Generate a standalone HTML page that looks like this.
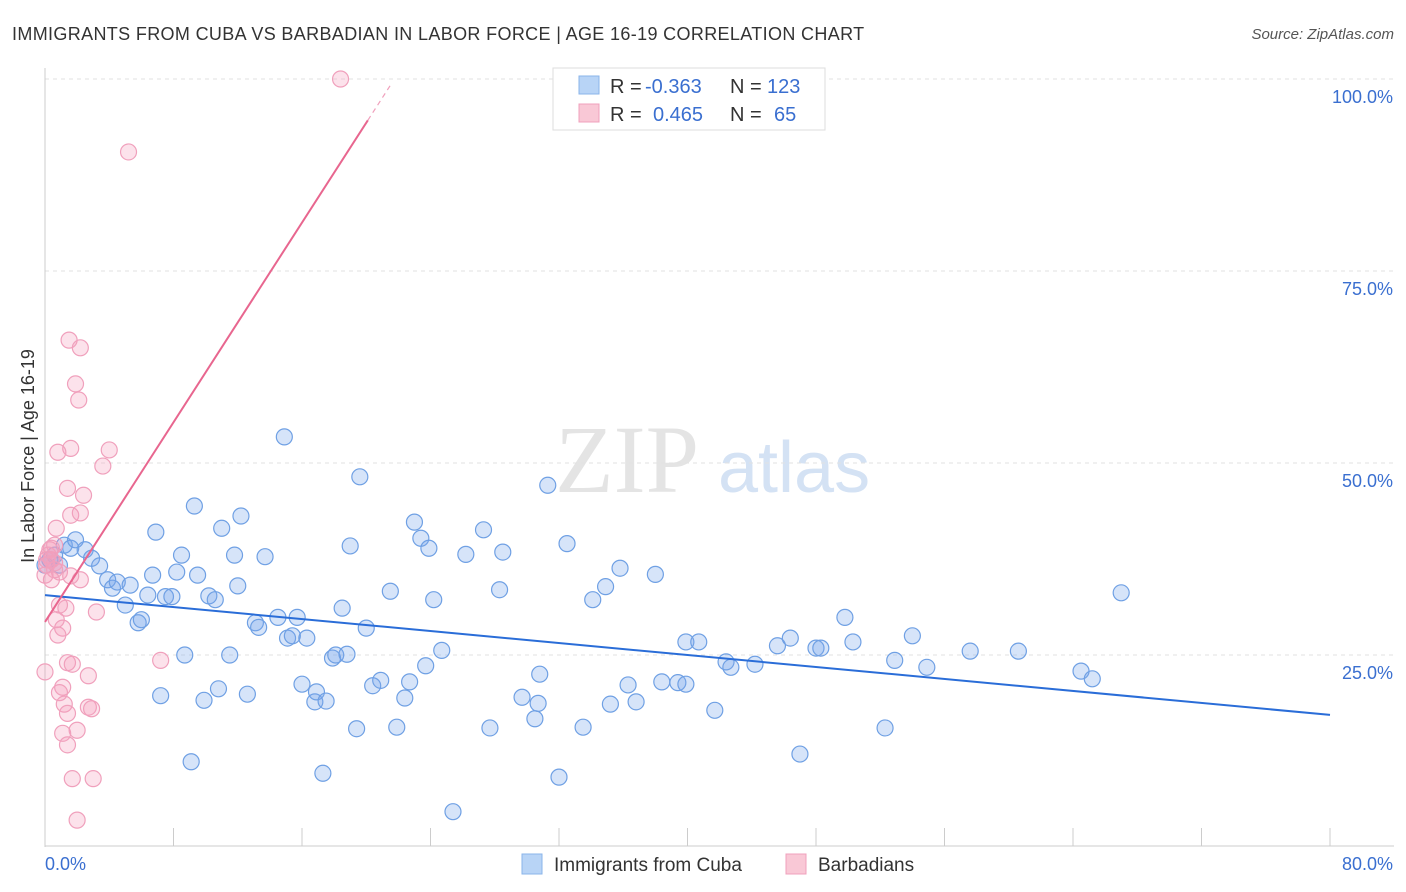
<!DOCTYPE html>
<html><head><meta charset="utf-8"><style>
body{margin:0;background:#fff;font-family:"Liberation Sans",sans-serif;}
#wrap{position:relative;width:1406px;height:892px;overflow:hidden;}
</style></head><body>
<div id="wrap">
<svg id="svg" width="1406" height="892">
<text x="12" y="40" font-size="18" fill="#333" letter-spacing="0.35">IMMIGRANTS FROM CUBA VS BARBADIAN IN LABOR FORCE | AGE 16-19 CORRELATION CHART</text>
<text x="1394" y="39" font-size="15" fill="#555" font-style="italic" text-anchor="end">Source: ZipAtlas.com</text>
<text x="34" y="456" font-size="18" fill="#333" text-anchor="middle" transform="rotate(-90 34 456)">In Labor Force | Age 16-19</text>
<text x="555" y="492" font-size="96" fill="#e4e4e4" font-family="Liberation Serif,serif">ZIP</text>
<text x="718" y="492" font-size="72" fill="#d4e2f4">atlas</text>
<g id="grid"></g><g id="marks"></g><g id="lines"></g>
<g>
<rect x="553" y="68" width="272" height="62" fill="#fff" stroke="#ddd"/>
<rect x="579" y="76" width="20" height="18" fill="#b8d4f6" stroke="#8ab4ea"/>
<rect x="579" y="104" width="20" height="18" fill="#f9c8d6" stroke="#f0a0bc"/>
<text font-size="20" fill="#333"><tspan x="610" y="93">R =</tspan><tspan x="610" y="121">R =</tspan><tspan x="730" y="93">N =</tspan><tspan x="730" y="121">N =</tspan></text>
<text font-size="20" fill="#3a6fd0"><tspan x="645" y="93">-0.363</tspan><tspan x="653" y="121">0.465</tspan><tspan x="767" y="93">123</tspan><tspan x="774" y="121">65</tspan></text>
</g>
<g>
<rect x="522" y="854" width="20" height="20" fill="#b8d4f6" stroke="#8ab4ea"/>
<text x="554" y="871" font-size="19" fill="#333">Immigrants from Cuba</text>
<rect x="786" y="854" width="20" height="20" fill="#f9c8d6" stroke="#f0a0bc"/>
<text x="818" y="871" font-size="19" fill="#333">Barbadians</text>
</g>
</svg>
</div>
<script>
const yTicks=[25,50,75,100];
const yTickLabels=["25.0%","50.0%","75.0%","100.0%"];
const xTicks=[0,8,16,24,32,40,48,56,64,72,80];
const cubaX=[0,0.3,0.6,0.9,1.2,1.6,1.9,2.5,2.9,3.4,3.9,4.2,4.5,5.0,5.3,5.8,6.0,6.4,6.7,6.9,7.2,7.5,7.9,8.2,8.5,8.7,9.1,9.3,9.5,9.9,10.2,10.6,10.8,11.0,11.5,11.8,12.0,12.2,12.6,13.1,13.3,13.7,14.5,14.9,15.1,15.4,15.7,16.0,16.3,16.8,16.9,17.3,17.5,17.9,18.1,18.5,18.8,19.0,19.4,19.6,20.0,20.4,20.9,21.5,21.9,22.4,22.7,23.0,23.4,23.7,23.9,24.2,24.7,25.4,26.2,27.3,27.7,28.3,28.5,29.7,30.5,30.7,30.8,31.3,32.0,32.5,33.5,34.1,34.9,35.2,35.8,36.3,36.8,38.0,38.4,39.4,39.9,39.9,40.7,41.7,42.4,42.7,44.2,45.6,46.4,47.0,48.0,48.3,49.8,50.3,52.3,52.9,54.0,54.9,57.6,60.6,64.5,65.2,67.0];
const cubaY=[36.7,37.4,38.0,36.7,39.3,38.9,40.0,38.7,37.6,36.6,34.8,33.7,34.5,31.5,34.1,29.2,29.6,32.8,35.4,41.0,19.7,32.6,32.6,35.8,38.0,25.0,11.1,44.4,35.4,19.1,32.7,32.2,20.6,41.5,25.0,38.0,34.0,43.1,19.9,29.2,28.6,37.8,29.9,53.4,27.2,27.5,29.9,21.2,27.2,18.9,20.2,9.6,19.0,24.6,25.0,31.1,25.1,39.2,15.4,48.2,28.5,21.0,21.7,33.3,15.6,19.4,21.5,42.3,40.2,23.6,38.9,32.2,25.6,4.6,38.1,41.3,15.5,33.5,38.4,19.5,16.7,18.7,22.5,47.1,9.1,39.5,15.6,32.2,33.9,18.6,36.3,21.1,18.9,35.5,21.5,21.4,26.7,21.2,26.7,17.8,24.1,23.4,23.8,26.2,27.2,12.1,25.9,25.9,29.9,26.7,15.5,24.3,27.5,23.4,25.5,25.5,22.9,21.9,33.1];
const barbX=[18.4,5.2,1.5,2.2,1.9,2.1,1.6,0.8,4.0,3.6,1.4,2.4,1.6,2.2,0.7,0.6,0.3,0.2,0.4,0.1,0.6,0.9,0,2.2,1.6,0.4,1.3,0.9,3.2,0.7,1.1,0.8,7.2,0,1.4,1.7,2.7,1.1,0.9,2.7,2.9,1.2,1.4,2.0,1.1,1.4,1.7,3.0,2.0,0.1,0.4,0.6];
const barbY=[100,90.5,66.0,65.0,60.3,58.2,51.9,51.4,51.7,49.6,46.7,45.8,43.2,43.5,41.5,39.3,38.7,38.0,37.4,36.7,36.1,35.8,35.4,34.8,35.3,34.8,31.1,31.5,30.6,29.6,28.5,27.6,24.3,22.8,24.0,23.8,22.3,20.8,20.1,18.2,18.0,18.6,17.4,15.2,14.8,13.3,8.9,8.9,3.5,37.4,38.9,37.0];
const cubaTrend=[32.8,-0.195];
const barbTrend=[29.3,3.25];
const NS="http://www.w3.org/2000/svg";
const X=v=>45+v/80*1285, Y=v=>847-v/100*768;
function mk(t,a,p){const e=document.createElementNS(NS,t);for(const k in a)e.setAttribute(k,a[k]);p.appendChild(e);return e;}
const grid=document.getElementById('grid'),marks=document.getElementById('marks'),lines=document.getElementById('lines');
yTicks.forEach((v,i)=>{
 const l=mk('line',{x1:45,x2:1394,y1:Y(v),y2:Y(v),stroke:'#e2e2e2','stroke-dasharray':'4,4'},grid);
 
 
 const t=mk('text',{x:1393,y:Y(v)+24,'font-size':18,fill:'#3a6fd0','text-anchor':'end'},grid);
 t.textContent=yTickLabels[i];
 
 
});
mk('line',{x1:45,x2:45,y1:68,y2:847,stroke:'#ccc'},grid);
mk('line',{x1:45,x2:1394,y1:846,y2:846,stroke:'#ccc'},grid);
xTicks.forEach(v=>{const l=mk('line',{x1:X(v),x2:X(v),y1:828,y2:846,stroke:'#ccc'},grid);
 
 });
let t=mk('text',{x:45,y:870,'font-size':18,fill:'#3a6fd0'},grid);t.textContent='0.0%';


t=mk('text',{x:1393,y:870,'font-size':18,fill:'#3a6fd0','text-anchor':'end'},grid);t.textContent='80.0%';


cubaX.forEach((x,i)=>{const c=mk('circle',{cx:X(x),cy:Y(cubaY[i]),r:8,fill:'rgba(120,165,235,0.3)',stroke:'#6fa0e4','stroke-width':1.2},marks);
 
 });
barbX.forEach((x,i)=>{const c=mk('circle',{cx:X(x),cy:Y(barbY[i]),r:8,fill:'rgba(245,160,190,0.3)',stroke:'#f0a0bc','stroke-width':1.2},marks);
 
 });
let l=mk('line',{x1:X(0),y1:Y(cubaTrend[0]),x2:X(80),y2:Y(cubaTrend[0]+cubaTrend[1]*80),stroke:'#2a6dd8','stroke-width':2},lines);


l=mk('line',{x1:X(0),y1:Y(barbTrend[0]),x2:X(20.1),y2:Y(barbTrend[0]+barbTrend[1]*20.1),stroke:'#e8668f','stroke-width':2},lines);


l=mk('line',{x1:X(20.1),y1:Y(barbTrend[0]+barbTrend[1]*20.1),x2:X(21.6),y2:Y(barbTrend[0]+barbTrend[1]*21.6),stroke:'#f0a0bc','stroke-width':1.2,'stroke-dasharray':'5,4'},lines);


</script>
</body></html>
